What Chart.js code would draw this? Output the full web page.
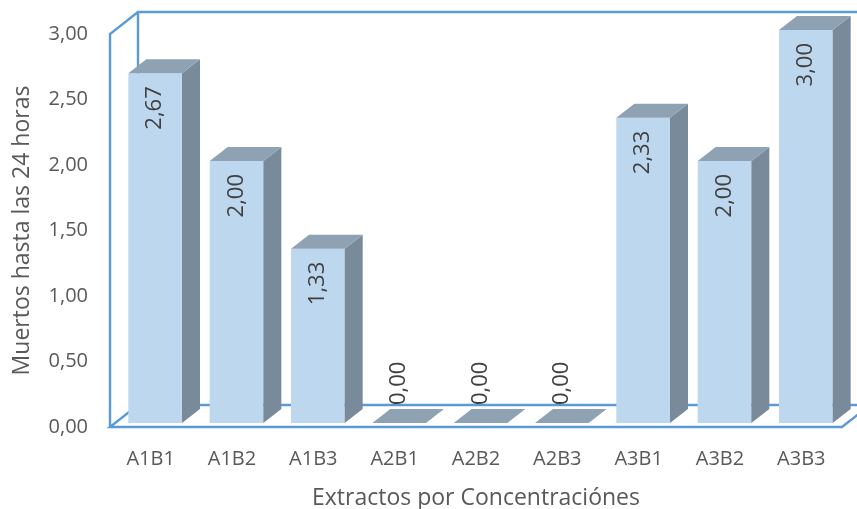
<!DOCTYPE html>
<html>
<head>
<meta charset="utf-8">
<script src="https://cdn.jsdelivr.net/npm/chart.js@4"></script>
<style>
  html, body { margin: 0; padding: 0; background: #ffffff; }
  #wrap { width: 857px; height: 509px; }
</style>
</head>
<body>
<div id="wrap"><canvas id="c" width="857" height="509"></canvas></div>
<script>
// Categories and values
const categories = ['A1B1', 'A1B2', 'A1B3', 'A2B1', 'A2B2', 'A2B3', 'A3B1', 'A3B2', 'A3B3'];
const muertos = [2.67, 2.00, 1.33, 0.00, 0.00, 0.00, 2.33, 2.00, 3.00];
const yMin = 0;
const yMax = 3;
const yStep = 0.5;

// 3D look: depth of the walls and of each bar
const DEPTH = { dx: 28, dy: -22 };
const BAR_FRONT = { dx: 4.5, dy: -4 };
const BAR_BACK = { dx: 22.5, dy: -18 };

const COLORS = {
  wall: '#5b9bd5',
  front: '#bdd7ee',
  top: '#8fa2b4',
  side: '#798a9a',
  text: '#595959',
  label: '#404040'
};

const FONT = '"Open Sans", "Noto Sans", sans-serif';
const fmt = v => v.toFixed(2).replace('.', ',');

const box3d = {
  id: 'box3d',
  beforeDatasetsDraw(chart) {
    const { ctx, scales: { x, y } } = chart;
    const y0 = y.getPixelForValue(yMin);
    const yT = y.getPixelForValue(yMax);
    const L = x.left, R = x.right;
    const dx = DEPTH.dx, dy = DEPTH.dy;
    ctx.save();
    ctx.strokeStyle = COLORS.wall;
    ctx.lineWidth = 2.4;
    ctx.lineJoin = 'miter';
    ctx.beginPath();
    // back wall
    ctx.moveTo(L + dx, y0 + dy);
    ctx.lineTo(L + dx, yT + dy);
    ctx.lineTo(R + dx, yT + dy);
    ctx.moveTo(L + dx, y0 + dy);
    ctx.lineTo(R + dx, y0 + dy);
    // side wall
    ctx.moveTo(L, y0);
    ctx.lineTo(L, yT);
    ctx.lineTo(L + dx, yT + dy);
    // floor
    ctx.moveTo(L + dx, y0 + dy);
    ctx.lineTo(L, y0);
    ctx.lineTo(R, y0);
    ctx.lineTo(R + dx, y0 + dy);
    ctx.stroke();
    ctx.restore();
  },
  afterDatasetsDraw(chart) {
    const { ctx } = chart;
    const meta = chart.getDatasetMeta(0);
    const f = BAR_FRONT, b = BAR_BACK;
    ctx.save();
    meta.data.forEach((bar, i) => {
      const v = muertos[i];
      const xl = bar.x - bar.width / 2;
      const xr = bar.x + bar.width / 2;
      const top = bar.y;
      const base = bar.base;
      const poly = (pts, color) => {
        ctx.beginPath();
        ctx.moveTo(pts[0][0], pts[0][1]);
        for (let k = 1; k < pts.length; k++) ctx.lineTo(pts[k][0], pts[k][1]);
        ctx.closePath();
        ctx.fillStyle = color;
        ctx.fill();
      };
      if (v > 0) {
        // front face
        poly([[xl + f.dx, top + f.dy], [xr + f.dx, top + f.dy], [xr + f.dx, base + f.dy], [xl + f.dx, base + f.dy]], COLORS.front);
        // right side
        poly([[xr + f.dx, top + f.dy], [xr + b.dx, top + b.dy], [xr + b.dx, base + b.dy], [xr + f.dx, base + f.dy]], COLORS.side);
      }
      // top face
      poly([[xl + f.dx, top + f.dy], [xr + f.dx, top + f.dy], [xr + b.dx, top + b.dy], [xl + b.dx, top + b.dy]], COLORS.top);
    });
    // value labels, rotated
    ctx.fillStyle = COLORS.label;
    ctx.font = '22px ' + FONT;
    ctx.textBaseline = 'middle';
    meta.data.forEach((bar, i) => {
      const v = muertos[i];
      const cx = bar.x + f.dx;
      ctx.save();
      if (v > 0) {
        ctx.translate(cx, bar.y + f.dy + 13);
        ctx.rotate(-Math.PI / 2);
        ctx.textAlign = 'right';
      } else {
        ctx.translate(cx, bar.y + DEPTH.dy);
        ctx.rotate(-Math.PI / 2);
        ctx.textAlign = 'left';
      }
      ctx.fillText(fmt(v), 0, 0);
      ctx.restore();
    });
    ctx.restore();
  }
};

new Chart(document.getElementById('c'), {
  type: 'bar',
  data: {
    labels: categories,
    datasets: [{
      label: 'Muertos hasta las 24 horas',
      data: muertos,
      backgroundColor: 'rgba(0,0,0,0)',
      borderWidth: 0,
      categoryPercentage: 1,
      barPercentage: 0.66
    }]
  },
  options: {
    responsive: false,
    animation: false,
    events: [],
    layout: { padding: { top: 32, right: 15, left: 0, bottom: 0 } },
    plugins: {
      legend: { display: false },
      tooltip: { enabled: false }
    },
    scales: {
      x: {
        grid: { display: false, drawTicks: false },
        border: { display: false },
        ticks: { color: COLORS.text, font: { family: FONT, size: 20 }, padding: 20, maxRotation: 0 },
        title: { display: true, text: 'Extractos por Concentraciónes', color: COLORS.text, font: { family: FONT, size: 23 }, padding: { top: 0, bottom: -3 } },
        afterFit(scale) { scale.height = 82; }
      },
      y: {
        min: yMin,
        max: yMax,
        grid: { display: false, drawTicks: false },
        border: { display: false },
        ticks: { stepSize: yStep, color: COLORS.text, font: { family: FONT, size: 20 }, padding: 22, callback: v => fmt(v) },
        title: { display: true, text: 'Muertos hasta las 24 horas', color: COLORS.text, font: { family: FONT, size: 23 }, padding: { top: 9, bottom: 0 } },
        afterFit(scale) { scale.width = 110; }
      }
    }
  },
  plugins: [box3d]
});
</script>
</body>
</html>
